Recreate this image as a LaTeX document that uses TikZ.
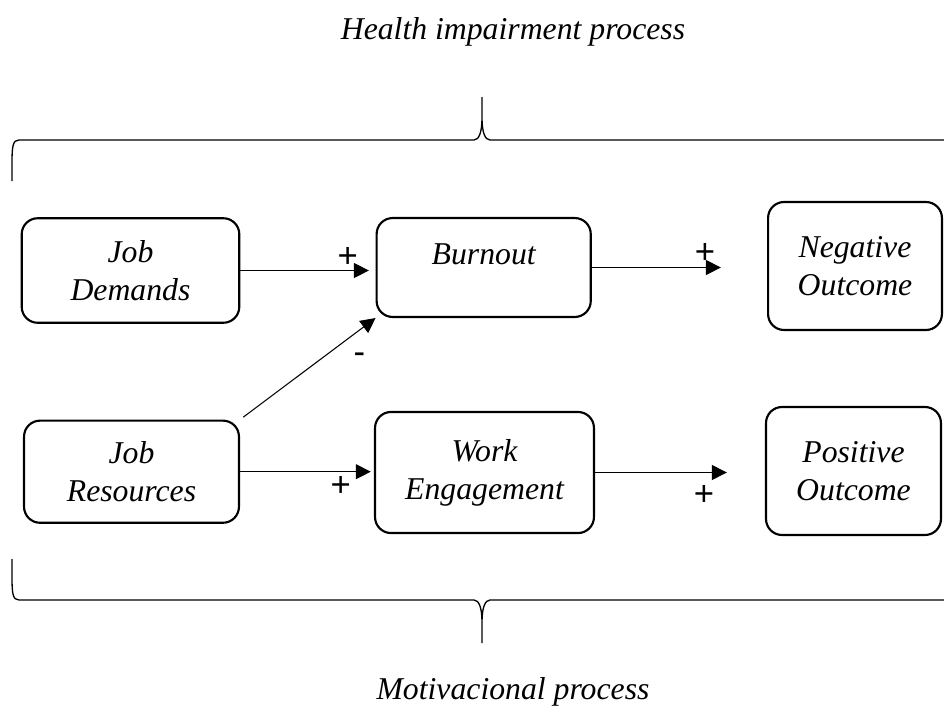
\documentclass[tikz,border=0pt]{standalone}
\usepackage{fontspec}
\setmainfont{Liberation Serif}
\newfontfamily\signfont{Liberation Sans}
\usetikzlibrary{arrows.meta}

\begin{document}
\begin{tikzpicture}[x=0.375pt, y=-0.375pt,
  font=\fontsize{11.9}{14.3}\selectfont\itshape,
  main/.style = {draw, line width=0.8pt, rounded corners=6pt, align=center, inner sep=0pt},
  sign/.style = {font=\fontsize{13}{15}\selectfont\signfont, inner sep=0pt},
  title/.style = {anchor=base},
  link/.style = {-{Triangle[length=5.6pt, width=5.6pt]}, line width=0.4pt},
  brace/.style = {line width=0.5pt}]
	\useasboundingbox (0,0) rectangle (944,711);
	\node[title] (HI) at (513,39) {Health impairment process};
	\node[title] (MP) at (513,699) {Motivacional process};
	\node[main, minimum width=81.6pt, minimum height=39.2pt] (JD) at (130.5,270.5) {Job\\Demands};
	\node[main, minimum width=80.3pt, minimum height=37.1pt, text depth=10pt] (BO) at (483.7,267.5) {Burnout};
	\node[main, minimum width=65.2pt, minimum height=48pt] (NO) at (855,266) {Negative\\Outcome};
	\node[main, minimum width=80.6pt, minimum height=38.3pt] (JR) at (131.5,471.7) {Job\\Resources};
	\node[main, minimum width=82.1pt, minimum height=45.4pt] (WE) at (484.5,472.5) {Work\\Engagement};
	\node[main, minimum width=65.6pt, minimum height=48pt] (PO) at (853.5,471) {Positive\\Outcome};
	\draw[link, shorten >=2.5pt] (JD.east) -- (JD.east -| BO.west);
	\draw[link, shorten >=17.3pt] (BO.east) -- (BO.east -| NO.west);
	\draw[link, shorten <=1.5pt] (JR.north east) -- (BO.south west);
	\draw[link, shorten >=1.2pt] (JR.east) -- (JR.east -| WE.west);
	\draw[link, shorten >=14.3pt] (WE.east) -- (WE.east -| PO.west);
	\node[sign] (S1) at (347.7,257.3) {+};
	\node[sign] (S2) at (705,253.3) {+};
	\node[sign] (S3) at (359.3,358) {-};
	\node[sign] (S4) at (340.7,486.7) {+};
	\node[sign] (S5) at (704,495) {+};
	% upper and lower brace
	\draw[brace] (12,181) -- (12,162) .. controls (12,146) and (13,140) .. (19,140) -- (474,140) .. controls (479,140) and (482,132) .. (482,118) -- (482,97) -- (482,118) .. controls (482,132) and (485,140) .. (490,140) -- (944,140);
	\draw[brace] (12,559) -- (12,578) .. controls (12,594) and (13,600) .. (19,600) -- (474,600) .. controls (479,600) and (482,608) .. (482,622) -- (482,643) -- (482,622) .. controls (482,608) and (485,600) .. (490,600) -- (944,600);
\end{tikzpicture}
\end{document}
